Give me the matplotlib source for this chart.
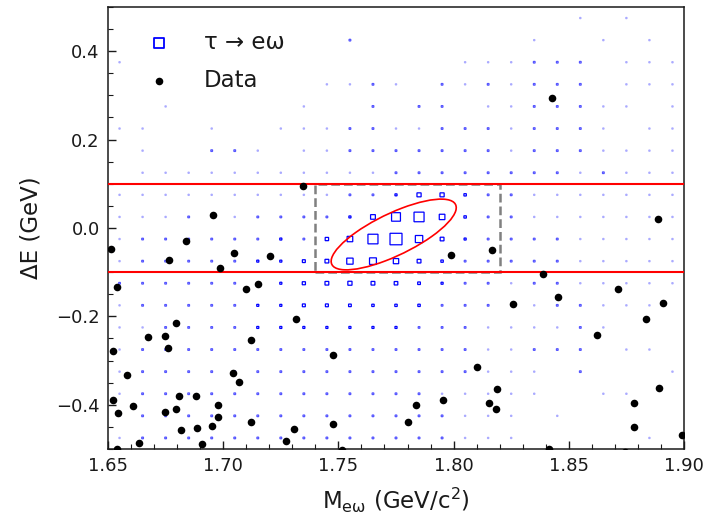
import numpy as np
import matplotlib
matplotlib.use("Agg")
import matplotlib.pyplot as plt
from matplotlib.patches import Rectangle, Ellipse
from matplotlib.ticker import MultipleLocator, FormatStrFormatter, FuncFormatter

# ---- signal MC: 2D histogram (M_ew, dE), bin contents (arbitrary units) ----
m_edges_lo, m_bin = 1.65, 0.01
de_edges_lo, de_bin = -0.5, 0.05
n_m, n_de = 25, 20

# rows listed from top (dE = 0.475) to bottom (dE = -0.475)
signal_counts = [
    [0,0,0,0,0, 0,0,0,0,0, 0,0,0,0,0, 0,0,0,0,0, 1,0,1,0,0],
    [0,0,0,0,0, 0,0,0,0,0, 2,0,0,0,0, 0,0,0,1,0, 0,1,0,1,0],
    [1,0,0,0,0, 0,0,0,0,0, 0,0,0,0,0, 1,1,1,2,2, 2,0,1,1,1],
    [0,0,0,0,0, 0,0,0,0,1, 1,2,1,0,2, 1,2,1,2,2, 2,0,1,1,1],
    [0,0,1,0,0, 0,0,0,1,0, 0,2,0,2,2, 0,1,1,2,2, 2,1,1,0,1],
    [1,1,0,0,1, 0,0,1,1,1, 2,2,1,1,2, 2,2,1,2,2, 2,1,0,1,1],
    [0,1,0,0,2, 2,1,0,1,1, 2,2,2,2,2, 2,2,1,2,2, 2,1,1,1,1],
    [0,1,1,1,1, 1,1,1,1,1, 1,1,2,2,2, 2,2,2,2,2, 1,2,1,1,1],
    [1,1,1,1,1, 1,1,1,1,1, 2,2,3,12,12, 4,2,2,1,1, 1,1,1,1,1],
    [1,1,1,2,1, 1,2,2,2,2, 3,16,55,70,22, 4,2,2,1,1, 1,1,1,1,1],
    [1,2,2,2,2, 2,2,3,2,8, 22,70,100,38,10, 3,2,2,2,2, 1,1,1,1,1],
    [1,2,2,2,2, 2,3,3,6,10, 28,33,20,10,4, 2,2,2,2,2, 1,1,1,1,1],
    [2,2,2,2,2, 2,2,3,7,10, 12,10,9,5,3, 2,2,1,2,2, 1,1,1,1,1],
    [1,2,2,2,2, 2,3,3,6,6, 5,4,4,4,2, 2,2,1,1,2, 2,1,1,1,0],
    [1,1,2,2,2, 2,3,3,3,3, 3,3,3,2,2, 2,1,1,1,1, 2,1,0,0,0],
    [1,2,2,2,2, 2,2,2,2,2, 2,2,2,2,2, 2,1,1,2,2, 2,0,1,1,0],
    [1,2,2,2,2, 2,2,2,2,2, 2,2,2,2,2, 2,1,1,1,0, 2,0,0,0,1],
    [1,2,2,2,2, 2,2,2,2,2, 2,2,2,2,1, 1,1,1,1,0, 0,1,1,0,0],
    [1,2,2,2,2, 2,2,2,2,2, 2,2,2,2,2, 1,1,1,0,1, 0,0,0,0,0],
    [1,2,2,2,2, 2,2,2,2,2, 2,2,2,2,2, 1,1,1,0,0, 0,0,0,1,0],
]

# ---- data events ----
data_m = [1.8427, 1.7346, 1.8886,
          1.6512, 1.6954, 1.6839, 1.6765, 1.7047, 1.6986, 1.7202, 1.7987, 1.8165, 1.8390,
          1.6538, 1.7099, 1.7150,
          1.8453, 1.8258, 1.8712, 1.8910,
          1.7315, 1.6795, 1.6674, 1.6747, 1.6762, 1.7121, 1.6523, 1.7475, 1.8837, 1.8622,
          1.6581, 1.7044, 1.7069, 1.8103, 1.8188, 1.8890,
          1.6810, 1.6882, 1.6523, 1.6610, 1.6976, 1.6746, 1.6794, 1.6542, 1.6977, 1.7122,
          1.6950, 1.6815, 1.6888, 1.7309, 1.7478, 1.7800, 1.7836, 1.7954, 1.8154, 1.8184,
          1.8783, 1.8784, 1.8993,
          1.6633, 1.6909, 1.7273, 1.6538, 1.7514, 1.8413, 1.8744]
data_de = [0.295, 0.095, 0.021,
           -0.048, 0.029, -0.029, -0.072, -0.057, -0.091, -0.064, -0.060, -0.049, -0.103,
           -0.134, -0.138, -0.127,
           -0.155, -0.171, -0.137, -0.169,
           -0.205, -0.216, -0.247, -0.245, -0.271, -0.254, -0.278, -0.288, -0.206, -0.241,
           -0.333, -0.327, -0.348, -0.315, -0.364, -0.361,
           -0.379, -0.379, -0.390, -0.402, -0.401, -0.416, -0.410, -0.419, -0.428, -0.438,
           -0.447, -0.458, -0.453, -0.455, -0.444, -0.439, -0.401, -0.389, -0.397, -0.409,
           -0.395, -0.451, -0.468,
           -0.487, -0.489, -0.481, -0.500, -0.502, -0.499, -0.506]

# signal region definitions
de_band = 0.1
box_m = (1.74, 1.82)
ell_center = (1.774, -0.0147)
ell_width, ell_height, ell_angle = 0.1655, 0.0342, 74.9

ink = "#1a1a1a"
fig = plt.figure(figsize=(7.13, 5.21), dpi=100)
ax = fig.add_axes([0.1515, 0.1382, 0.8078, 0.8484])

# histogram boxes (area proportional to content)
counts = np.array(signal_counts, dtype=float)[::-1]  # bottom row first
cmax = counts.max()
m_centers = m_edges_lo + m_bin * (np.arange(n_m) + 0.5)
de_centers = de_edges_lo + de_bin * (np.arange(n_de) + 0.5)
max_frac = 0.52
for j, yc in enumerate(de_centers):
    for i, xc in enumerate(m_centers):
        c = counts[j, i]
        if c <= 0:
            continue
        f = max_frac * np.sqrt(c / cmax)
        w, h = m_bin * f, de_bin * f
        a = float(np.clip(c / 3.0, 0.3, 1.0))
        ax.add_patch(Rectangle((xc - w / 2, yc - h / 2), w, h, fill=False,
                               edgecolor=(0, 0, 1, a), linewidth=0.9, zorder=2,
                               snap=False))

# signal box and dE band
ax.add_patch(Rectangle((box_m[0], -de_band), box_m[1] - box_m[0], 2 * de_band,
                       fill=False, edgecolor="#808080", linewidth=1.8,
                       linestyle=(0, (3.5, 1.6)), zorder=3))
for yv in (-de_band, de_band):
    ax.axhline(yv, color="red", linewidth=1.5, zorder=4)
ax.add_patch(Ellipse(ell_center, ell_width, ell_height, angle=ell_angle,
                     fill=False, edgecolor="red", linewidth=1.2, zorder=4))

ax.scatter(data_m, data_de, s=30, color="black", zorder=5, linewidths=0)

# legend handles
h_sig = ax.scatter([], [], marker="s", s=50, facecolors="none",
                   edgecolors="blue", linewidths=1.3)
h_dat = ax.scatter([], [], marker="o", s=30, color="black", linewidths=0)
leg = ax.legend([h_sig, h_dat], ["τ → eω", "Data"],
                loc="upper left", bbox_to_anchor=(0.035, 0.976), frameon=False,
                fontsize=16.5, handletextpad=1.2, labelspacing=0.62,
                handlelength=1.5, borderaxespad=0.2)
for t in leg.get_texts():
    t.set_color(ink)

ax.set_xlim(1.65, 1.90)
ax.set_ylim(-0.5, 0.5)
ax.xaxis.set_major_locator(MultipleLocator(0.05))
ax.xaxis.set_minor_locator(MultipleLocator(0.01))
ax.yaxis.set_major_locator(MultipleLocator(0.2))
ax.yaxis.set_minor_locator(MultipleLocator(0.05))
ax.xaxis.set_major_formatter(FormatStrFormatter("%.2f"))
ax.yaxis.set_major_formatter(FuncFormatter(
    lambda v, p: ("%.1f" % v).replace("-", "\u2212")))
ax.tick_params(which="both", direction="in", top=False, right=False,
               labelsize=13, labelcolor=ink, color=ink)
ax.tick_params(which="major", length=6, width=1.0, pad=6)
ax.tick_params(which="minor", length=3.5, width=0.8)
for s in ax.spines.values():
    s.set_linewidth(1.1)
    s.set_color(ink)

ax.set_xlabel(r"M$_{\mathregular{e\omega}}$ (GeV/c$^{\mathregular{2}}$)",
              fontsize=16.5, color=ink, labelpad=7.5)
ax.set_ylabel("ΔE (GeV)", fontsize=16.5, color=ink, labelpad=10)

fig.savefig("out.png", dpi=100, facecolor="white")
